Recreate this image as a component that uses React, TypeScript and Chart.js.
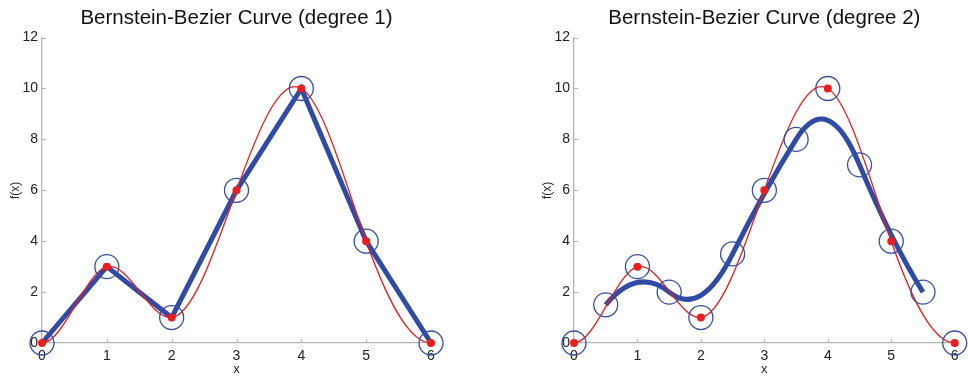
import React, { useEffect, useRef } from "react";
import { Chart, registerables } from "chart.js";

Chart.register(...registerables);

// ---- data ----
const dataX = [0, 1, 2, 3, 4, 5, 6];
const dataY = [0, 3, 1, 6, 10, 4, 0];

// degree 1: control points (circles) and polygon
const controlX1 = [0, 1, 2, 3, 4, 5, 6];
const controlY1 = [0, 3, 1, 6, 10, 4, 0];

// degree 2: control points (circles)
const controlX2 = [0, 0.5, 1, 1.5, 2, 2.5, 3, 3.5, 4, 4.5, 5, 5.5, 6];
const controlY2 = [0, 1.5, 3, 2, 1, 3.5, 6, 8, 10, 7, 4, 2, 0];
// degree 2: quadratic Bezier chain (start, control, end, control, end, ...)
const bezierX2 = [0.5, 1, 1.5, 2, 2.5, 3, 3.5, 4, 4.5, 5, 5.5];
const bezierY2 = [1.5, 3, 2, 1, 3.5, 6, 8, 10, 7, 4, 2];

const xTicks = [0, 1, 2, 3, 4, 5, 6];
const yTicks = [0, 2, 4, 6, 8, 10, 12];
const titles = [
  "Bernstein-Bezier Curve (degree 1)",
  "Bernstein-Bezier Curve (degree 2)",
];

const BLUE = "#2f4ba6";
const CIRCLE = "#3450a0";
const RED = "#ee1c1c";
const AXIS = "#b4b4b4";
const TEXT = "#222222";
const FONT = "'Liberation Sans', Arial, Helvetica, sans-serif";

const toPts = (xs: number[], ys: number[]) => xs.map((x, i) => ({ x, y: ys[i] }));

// tangents of a clamped (zero end slope) cubic spline through the data
function clampedSlopes(xs: number[], ys: number[]): number[] {
  const n = xs.length;
  const m = new Array(n).fill(0);
  if (n < 3) return m;
  const h: number[] = [];
  const d: number[] = [];
  for (let i = 0; i < n - 1; i++) {
    h.push(xs[i + 1] - xs[i]);
    d.push((ys[i + 1] - ys[i]) / h[i]);
  }
  const k = n - 2;
  const a: number[] = [], b: number[] = [], c: number[] = [], r: number[] = [];
  for (let j = 0; j < k; j++) {
    const i = j + 1;
    a.push(h[i]);
    b.push(2 * (h[i - 1] + h[i]));
    c.push(h[i - 1]);
    r.push(3 * (h[i] * d[i - 1] + h[i - 1] * d[i]));
  }
  const cp: number[] = [], rp: number[] = [];
  for (let j = 0; j < k; j++) {
    const den = b[j] - (j > 0 ? a[j] * cp[j - 1] : 0);
    cp.push(c[j] / den);
    rp.push((r[j] - (j > 0 ? a[j] * rp[j - 1] : 0)) / den);
  }
  const sol = new Array(k).fill(0);
  for (let j = k - 1; j >= 0; j--) {
    sol[j] = rp[j] - (j < k - 1 ? cp[j] * sol[j + 1] : 0);
  }
  for (let j = 0; j < k; j++) m[j + 1] = sol[j];
  return m;
}

const splinePlugin = {
  id: "clampedSpline",
  beforeDatasetDraw(chart: any, args: any) {
    const ds = chart.data.datasets[args.index];
    if (!ds || ds.label !== "curve") return;
    const meta = args.meta;
    const xs = dataX;
    const ys = dataY;
    const n = xs.length;
    const m = clampedSlopes(xs, ys);
    const sx = chart.scales.x;
    const sy = chart.scales.y;
    meta.data.forEach((pt: any, i: number) => {
      const hPrev = i > 0 ? xs[i] - xs[i - 1] : 0;
      const hNext = i < n - 1 ? xs[i + 1] - xs[i] : 0;
      pt.cp1x = sx.getPixelForValue(xs[i] - hPrev / 3);
      pt.cp1y = sy.getPixelForValue(ys[i] - (m[i] * hPrev) / 3);
      pt.cp2x = sx.getPixelForValue(xs[i] + hNext / 3);
      pt.cp2y = sy.getPixelForValue(ys[i] + (m[i] * hNext) / 3);
    });
    if (meta.dataset) meta.dataset._pointsUpdated = true;
  },
};

const innerTicks = {
  id: "innerTicks",
  beforeDatasetsDraw(chart: any) {
    const { ctx, chartArea, scales } = chart;
    ctx.save();
    ctx.strokeStyle = AXIS;
    ctx.lineWidth = 1;
    ctx.beginPath();
    xTicks.forEach((v) => {
      const px = Math.round(scales.x.getPixelForValue(v)) + 0.5;
      ctx.moveTo(px, chartArea.bottom);
      ctx.lineTo(px, chartArea.bottom - 4);
    });
    yTicks.forEach((v) => {
      const py = Math.round(scales.y.getPixelForValue(v)) + 0.5;
      ctx.moveTo(chartArea.left, py);
      ctx.lineTo(chartArea.left + 4, py);
    });
    ctx.stroke();
    ctx.restore();
  },
};

const quadBezierPlugin = {
  id: "quadBezier",
  beforeDatasetsDraw(chart: any, _args: any, opts: any) {
    if (!opts || !opts.enabled) return;
    const { ctx, scales } = chart;
    const X = (v: number) => scales.x.getPixelForValue(v);
    const Y = (v: number) => scales.y.getPixelForValue(v);
    ctx.save();
    ctx.strokeStyle = BLUE;
    ctx.lineWidth = 5;
    ctx.lineJoin = "round";
    ctx.lineCap = "butt";
    ctx.beginPath();
    ctx.moveTo(X(bezierX2[0]), Y(bezierY2[0]));
    for (let i = 1; i + 1 < bezierX2.length; i += 2) {
      ctx.quadraticCurveTo(
        X(bezierX2[i]),
        Y(bezierY2[i]),
        X(bezierX2[i + 1]),
        Y(bezierY2[i + 1])
      );
    }
    ctx.stroke();
    ctx.restore();
  },
};

function makeConfig(idx: number): any {
  const degree2 = idx === 1;
  const datasets: any[] = [
    {
      label: "circles",
      data: degree2 ? toPts(controlX2, controlY2) : toPts(controlX1, controlY1),
      showLine: false,
      pointRadius: 12,
      pointBorderWidth: 1.3,
      pointBorderColor: CIRCLE,
      pointBackgroundColor: "rgba(0,0,0,0)",
      clip: false,
      order: 0,
    },
    {
      label: "dots",
      data: toPts(dataX, dataY),
      showLine: false,
      pointRadius: 4,
      pointBorderWidth: 0,
      pointBackgroundColor: RED,
      clip: false,
      order: 1,
    },
    {
      label: "curve",
      data: toPts(dataX, dataY),
      showLine: true,
      borderColor: RED,
      borderWidth: 1.3,
      pointRadius: 0,
      tension: 0.4,
      clip: false,
      order: 2,
    },
  ];
  if (!degree2) {
    datasets.push({
      label: "polygon",
      data: toPts(controlX1, controlY1),
      showLine: true,
      borderColor: BLUE,
      borderWidth: 5,
      pointRadius: 0,
      tension: 0,
      borderJoinStyle: "miter",
      clip: false,
      order: 3,
    });
  }
  return {
    type: "scatter",
    data: { datasets },
    plugins: [innerTicks, quadBezierPlugin, splinePlugin],
    options: {
      responsive: false,
      animation: false,
      devicePixelRatio: 1,
      layout: {
        padding: degree2
          ? { left: 48, right: 6, top: 0, bottom: 0 }
          : { left: 0, right: 53, top: 0, bottom: 0 },
      },
      plugins: {
        legend: { display: false },
        tooltip: { enabled: false },
        quadBezier: { enabled: degree2 },
        title: {
          display: true,
          text: titles[idx],
          fullSize: false,
          color: "#111",
          font: { family: FONT, size: 20.5, weight: "normal", lineHeight: 1.2 },
          padding: { top: 6, bottom: 7 },
        },
      },
      scales: {
        x: {
          type: "linear",
          min: 0,
          max: 6,
          afterFit: (s: any) => {
            s.height = 33;
          },
          afterBuildTicks: (s: any) => {
            s.ticks = xTicks.map((v) => ({ value: v }));
          },
          grid: { display: true, drawOnChartArea: false, drawTicks: false },
          border: { display: true, color: AXIS, width: 1.3 },
          ticks: {
            color: TEXT,
            padding: 5,
            maxRotation: 0,
            font: { family: FONT, size: 14 },
          },
          title: {
            display: true,
            text: "x",
            color: TEXT,
            font: { family: FONT, size: 13 },
            padding: { top: 0, bottom: -1 },
          },
        },
        y: {
          type: "linear",
          min: 0,
          max: 12,
          afterFit: (s: any) => {
            s.width = 42;
          },
          afterBuildTicks: (s: any) => {
            s.ticks = yTicks.map((v) => ({ value: v }));
          },
          grid: { display: true, drawOnChartArea: false, drawTicks: false },
          border: { display: true, color: AXIS, width: 1.3 },
          ticks: {
            color: TEXT,
            padding: 4,
            font: { family: FONT, size: 14 },
          },
          title: {
            display: true,
            text: "f(x)",
            color: TEXT,
            font: { family: FONT, size: 12 },
            padding: { top: 8, bottom: 0 },
          },
        },
      },
    },
  };
}

function Panel({ idx }: { idx: number }) {
  const ref = useRef<HTMLCanvasElement | null>(null);
  useEffect(() => {
    if (!ref.current) return;
    const chart = new Chart(ref.current, makeConfig(idx));
    return () => chart.destroy();
  }, [idx]);
  return (
    <div
      style={{
        position: "absolute",
        left: idx * 484,
        top: 0,
        width: 484,
        height: 376,
      }}
    >
      <canvas ref={ref} width={484} height={376} style={{ display: "block" }} />
    </div>
  );
}

export default function App() {
  return (
    <div
      style={{
        position: "fixed",
        left: 0,
        top: 0,
        width: 968,
        height: 376,
        background: "#ffffff",
        overflow: "hidden",
      }}
    >
      <Panel idx={0} />
      <Panel idx={1} />
    </div>
  );
}
